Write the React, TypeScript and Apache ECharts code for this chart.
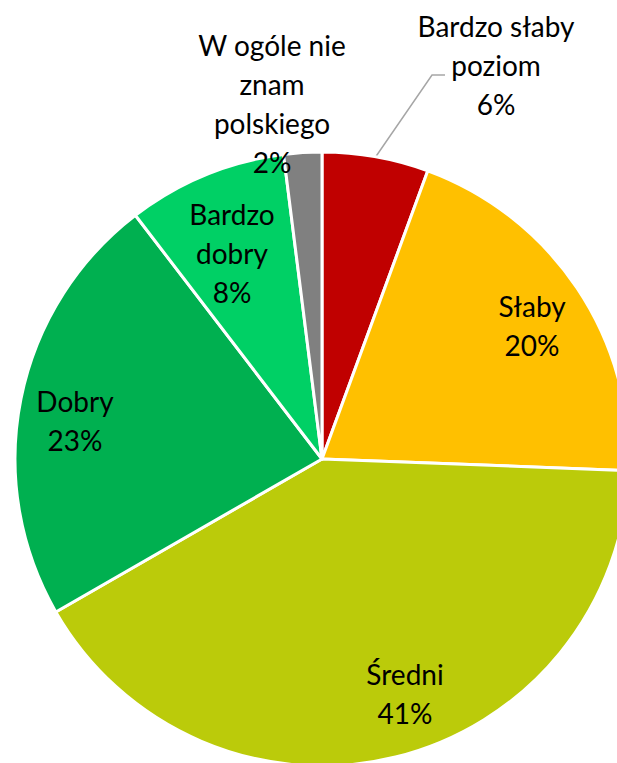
import React, { useEffect, useRef } from "react";
import * as echarts from "echarts";

const categories = [
  "Bardzo słaby\npoziom",
  "Słaby",
  "Średni",
  "Dobry",
  "Bardzo\ndobry",
  "W ogóle nie\nznam\npolskiego",
];
const values = [5.6, 20.0, 41.1, 22.9, 8.4, 2.0];
const colors = ["#C00000", "#FFC000", "#BBCB0A", "#00B050", "#00D065", "#808080"];
const outsideLabels = [0, 5];

export default function App() {
  const ref = useRef<HTMLDivElement>(null);
  useEffect(() => {
    const chart = echarts.init(ref.current!, null, { renderer: "svg" });
    const font = { fontFamily: "Lato", fontSize: 28, color: "#000", lineHeight: 39 };
    const labelPos: Record<number, [number, number]> = {
      0: [496, 65],
      1: [532, 325],
      2: [405, 693],
      3: [75, 420],
      4: [232, 253],
      5: [272, 103],
    };
    const layout = (p: any) => {
      const pos = labelPos[p.dataIndex];
      if (!pos) return {};
      const res: any = { x: pos[0], y: pos[1], align: "center", verticalAlign: "middle" };
      if (p.dataIndex === 0 && p.labelLinePoints) {
        const start = p.labelLinePoints[0];
        res.labelLinePoints = [start, [432, 75], [445, 75]];
      }
      return res;
    };
    const fmt = (p: any) => `${p.name}\n${Math.round(p.value)}%`;
    chart.setOption({
      animation: false,
      series: [
        {
          type: "pie",
          center: [322, 459],
          radius: [0, 307],
          startAngle: 90,
          clockwise: true,
          itemStyle: { borderColor: "#fff", borderWidth: 3 },
          data: categories.map((c, i) => ({
            name: c,
            value: values[i],
            itemStyle: { color: colors[i] },
            label: {
              show: outsideLabels.includes(i),
              position: "outside",
              ...font,
              align: "center",
              formatter: fmt,
            },
            labelLine: {
              show: i === 0,
              lineStyle: { color: "#A6A6A6", width: 1.5 },
              length: 10,
              length2: 10,
            },
          })),
          labelLayout: layout,
          emphasis: { disabled: true },
        },
        {
          type: "pie",
          center: [322, 459],
          radius: [184, 307],
          startAngle: 90,
          clockwise: true,
          silent: true,
          itemStyle: { color: "rgba(0,0,0,0)" },
          labelLine: { show: false },
          data: categories.map((c, i) => ({
            name: c,
            value: values[i],
            label: {
              show: !outsideLabels.includes(i),
              position: "inside",
              ...font,
              align: "center",
              formatter: fmt,
            },
          })),
          labelLayout: layout,
          emphasis: { disabled: true },
        },
      ],
    });
    return () => chart.dispose();
  }, []);
  return (
    <div
      ref={ref}
      style={{ position: "fixed", left: 0, top: 0, width: 617, height: 763, background: "#fff" }}
    />
  );
}
